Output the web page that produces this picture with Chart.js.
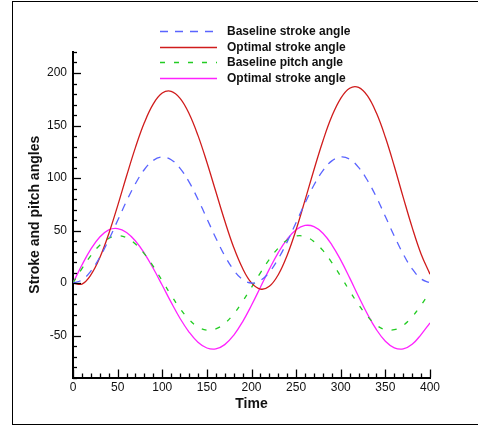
<!DOCTYPE html>
<html>
<head>
<meta charset="utf-8">
<script src="https://cdn.jsdelivr.net/npm/chart.js@4.4.1/dist/chart.umd.min.js"></script>
<style>
  html, body { margin: 0; padding: 0; background: #fff; overflow: hidden; }
  #wrap { position: relative; width: 478px; height: 426px; }
  #frame { position: absolute; left: 12px; top: 1px; width: 500px; height: 422px; border: 1px solid #000; pointer-events: none; }
  canvas { position: absolute; left: 0; top: 0; }
</style>
</head>
<body>
<div id="wrap">
  <canvas id="c" width="478" height="426"></canvas>
  <div id="frame"></div>
</div>
<script>
// ---- data ----
const time = [0,10,20,30,40,50,60,70,80,90,100,110,120,130,140,150,160,170,180,190,200,
              210,220,230,240,250,260,270,280,290,300,310,320,330,340,350,360,370,380,390,400];

const baselineStroke = [0,2.9,11.3,24.5,41.1,59.5,78.0,94.7,108.1,116.8,120.0,117.4,109.2,96.3,79.8,61.4,42.9,26.0,12.4,3.4,0.0,
                        2.4,10.3,23.1,39.2,57.7,76.2,93.3,107.0,116.3,120.0,117.9,110.1,97.6,81.7,63.3,44.7,27.5,13.5,4.0,0.1];

const optimalStroke = [0,-1,7.7,24.1,46.7,73.5,101.9,129.2,152.8,170.6,180.9,182.6,175.9,161.5,140.6,115.0,87.1,59.3,34.1,14.0,0.1,
                       -5.8,-3.2,7.9,26.5,50.8,78.9,107.9,135.3,158.7,175.9,185.5,186.3,178.2,161.8,138.8,111.2,81.6,53.0,27.7,8.4];

const baselinePitch = [0,13.7,26.1,36.0,42.5,45.0,43.2,37.2,27.8,15.8,2.1,-11.7,-24.4,-34.7,-41.8,-44.9,-43.7,-38.4,-29.5,-17.6,-4.2,
                       9.7,22.6,33.3,41.0,44.7,44.2,39.4,31.0,19.5,6.3,-7.6,-20.7,-31.8,-40.1,-44.4,-44.5,-40.3,-32.2,-21.1,-8.1];

const optimalPitch = [0,17.1,32.2,43.8,50.6,51.8,48.1,40.0,28.3,13.8,-2.2,-18.5,-33.8,-46.7,-56.4,-61.9,-62.8,-58.7,-49.8,-37.0,-21.2,
                      -4.0,13.2,29.0,41.8,50.7,54.8,53.7,47.4,36.4,21.8,4.9,-12.9,-29.8,-44.5,-55.4,-61.7,-62.8,-58.4,-49.1,-38.0];

const seriesLabels = ["Baseline stroke angle", "Optimal stroke angle", "Baseline pitch angle", "Optimal stroke angle"];
const xTitle = "Time";
const yTitle = "Stroke and pitch angles";
const xMin = 0, xMax = 400, xMajor = 50, xMinor = 10;
const yMin = -90, yMax = 220, yMajor = 50, yMinor = 10;

function pts(vals) { return time.map((t, i) => ({ x: t, y: vals[i] })); }

// inward tick marks drawn from the scales
const inwardTicks = {
  id: 'inwardTicks',
  afterDatasetsDraw(chart) {
    const ctx = chart.ctx;
    const xs = chart.scales.x, ys = chart.scales.y;
    const area = chart.chartArea;
    ctx.save();
    ctx.strokeStyle = '#000';
    ctx.lineWidth = 1.3;
    xs.ticks.forEach(tk => {
      const px = Math.round(xs.getPixelForValue(tk.value)) + 0.5;
      const len = (Math.abs(tk.value % xMajor) < 1e-6) ? 8 : 4;
      ctx.beginPath(); ctx.moveTo(px, area.bottom); ctx.lineTo(px, area.bottom - len); ctx.stroke();
    });
    ys.ticks.forEach(tk => {
      const py = Math.round(ys.getPixelForValue(tk.value)) + 0.5;
      const len = (Math.abs(tk.value % yMajor) < 1e-6) ? 8 : 4;
      ctx.beginPath(); ctx.moveTo(area.left, py); ctx.lineTo(area.left + len, py); ctx.stroke();
    });
    ctx.restore();
  }
};

// legend drawn from dataset styles
const boxLegend = {
  id: 'boxLegend',
  afterDraw(chart) {
    const ctx = chart.ctx;
    const x0 = 160, x1 = 217, tx = 227, y0 = 31, dy = 15.6;
    ctx.save();
    ctx.font = 'bold 12px "Liberation Sans", Arial, sans-serif';
    ctx.textBaseline = 'middle';
    chart.data.datasets.forEach((ds, i) => {
      const y = Math.round(y0 + i * dy) + 0.5;
      ctx.strokeStyle = ds.borderColor;
      ctx.lineWidth = ds.borderWidth;
      ctx.setLineDash(ds.borderDash || []);
      ctx.beginPath(); ctx.moveTo(x0, y); ctx.lineTo(x1, y); ctx.stroke();
      ctx.setLineDash([]);
      ctx.fillStyle = '#111';
      ctx.fillText(ds.label, tx, y);
    });
    ctx.restore();
  }
};

new Chart(document.getElementById('c'), {
  type: 'line',
  data: {
    datasets: [
      { label: seriesLabels[0], data: pts(baselineStroke), borderColor: '#5a64ff', borderWidth: 1.3, borderDash: [8, 7] },
      { label: seriesLabels[1], data: pts(optimalStroke), borderColor: '#d01c1c', borderWidth: 1.3 },
      { label: seriesLabels[2], data: pts(baselinePitch), borderColor: '#22cc22', borderWidth: 1.3, borderDash: [5, 9] },
      { label: seriesLabels[3], data: pts(optimalPitch), borderColor: '#ff22ff', borderWidth: 1.3 }
    ]
  },
  options: {
    responsive: false,
    animation: false,
    events: [],
    elements: { point: { radius: 0 }, line: { tension: 0.4, fill: false } },
    layout: { padding: { left: 20, top: 52, right: 48, bottom: 10 } },
    plugins: { legend: { display: false }, tooltip: { enabled: false } },
    scales: {
      x: {
        type: 'linear', min: xMin, max: xMax,
        grid: { display: false, drawTicks: false },
        border: { display: true, color: '#000', width: 2 },
        ticks: {
          stepSize: xMinor, autoSkip: false, maxRotation: 0, padding: 3,
          color: '#111', font: { family: '"Liberation Sans", Arial, sans-serif', size: 12 },
          callback: v => (Math.abs(v % xMajor) < 1e-6 ? String(v) : '')
        },
        title: { display: true, text: xTitle, color: '#111', padding: { top: 0, bottom: 3 },
                 font: { family: '"Liberation Sans", Arial, sans-serif', size: 14, weight: 'bold' } },
        afterFit(s) { s.height = 38.5; }
      },
      y: {
        type: 'linear', min: yMin, max: yMax,
        grid: { display: false, drawTicks: false },
        border: { display: true, color: '#000', width: 2 },
        ticks: {
          stepSize: yMinor, autoSkip: false, padding: 6,
          color: '#111', font: { family: '"Liberation Sans", Arial, sans-serif', size: 12 },
          callback: v => (Math.abs(v % yMajor) < 1e-6 ? String(v) : '')
        },
        title: { display: true, text: yTitle, color: '#111', padding: { top: 7, bottom: 0 },
                 font: { family: '"Liberation Sans", Arial, sans-serif', size: 14, weight: 'bold' } },
        afterFit(s) { s.width = 53; }
      }
    }
  },
  plugins: [inwardTicks, boxLegend]
});
</script>
</body>
</html>
